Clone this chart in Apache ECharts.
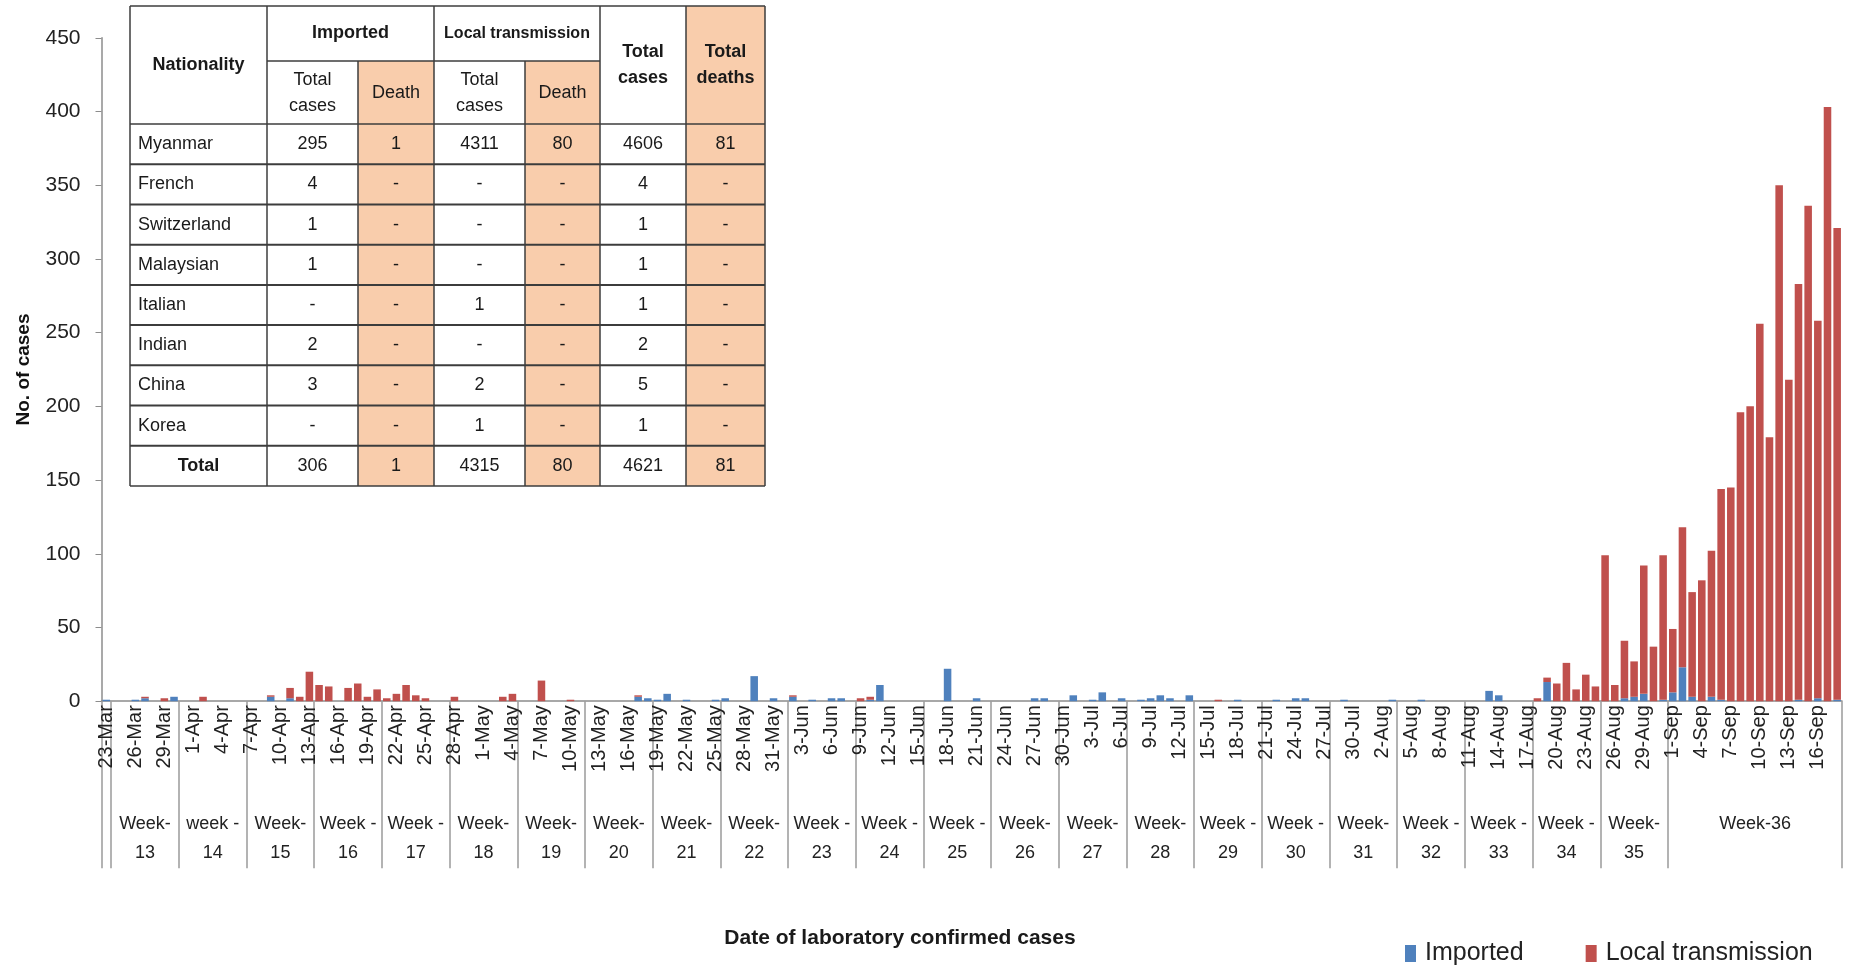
<!DOCTYPE html>
<html><head><meta charset="utf-8">
<script src="https://cdn.jsdelivr.net/npm/echarts/dist/echarts.min.js"></script>
<style>html,body{margin:0;padding:0;background:#fff}#c{width:1851px;height:969px}</style>
</head><body><div id="c"></div>
<script>
// ---------- DATA ----------
const dates = [
'23-Mar','24-Mar','25-Mar','26-Mar','27-Mar','28-Mar','29-Mar','30-Mar','31-Mar',
'1-Apr','2-Apr','3-Apr','4-Apr','5-Apr','6-Apr','7-Apr','8-Apr','9-Apr','10-Apr','11-Apr','12-Apr','13-Apr','14-Apr','15-Apr','16-Apr','17-Apr','18-Apr','19-Apr','20-Apr','21-Apr','22-Apr','23-Apr','24-Apr','25-Apr','26-Apr','27-Apr','28-Apr','29-Apr','30-Apr',
'1-May','2-May','3-May','4-May','5-May','6-May','7-May','8-May','9-May','10-May','11-May','12-May','13-May','14-May','15-May','16-May','17-May','18-May','19-May','20-May','21-May','22-May','23-May','24-May','25-May','26-May','27-May','28-May','29-May','30-May','31-May',
'1-Jun','2-Jun','3-Jun','4-Jun','5-Jun','6-Jun','7-Jun','8-Jun','9-Jun','10-Jun','11-Jun','12-Jun','13-Jun','14-Jun','15-Jun','16-Jun','17-Jun','18-Jun','19-Jun','20-Jun','21-Jun','22-Jun','23-Jun','24-Jun','25-Jun','26-Jun','27-Jun','28-Jun','29-Jun','30-Jun',
'1-Jul','2-Jul','3-Jul','4-Jul','5-Jul','6-Jul','7-Jul','8-Jul','9-Jul','10-Jul','11-Jul','12-Jul','13-Jul','14-Jul','15-Jul','16-Jul','17-Jul','18-Jul','19-Jul','20-Jul','21-Jul','22-Jul','23-Jul','24-Jul','25-Jul','26-Jul','27-Jul','28-Jul','29-Jul','30-Jul','31-Jul',
'1-Aug','2-Aug','3-Aug','4-Aug','5-Aug','6-Aug','7-Aug','8-Aug','9-Aug','10-Aug','11-Aug','12-Aug','13-Aug','14-Aug','15-Aug','16-Aug','17-Aug','18-Aug','19-Aug','20-Aug','21-Aug','22-Aug','23-Aug','24-Aug','25-Aug','26-Aug','27-Aug','28-Aug','29-Aug','30-Aug','31-Aug',
'1-Sep','2-Sep','3-Sep','4-Sep','5-Sep','6-Sep','7-Sep','8-Sep','9-Sep','10-Sep','11-Sep','12-Sep','13-Sep','14-Sep','15-Sep','16-Sep','17-Sep','18-Sep'
];
const imported = [
1,0,0,1,2,0,0,3,0,0,
0,0,0,0,0,0,0,3,0,2,
0,0,0,0,0,0,0,0,0,0,
0,0,0,0,0,0,0,0,0,0,
0,0,0,0,0,0,0,0,0,0,
0,0,0,0,0,3,2,1,5,0,
1,0,0,1,2,0,0,17,0,2,
0,3,0,1,0,2,2,0,0,1,
11,0,0,0,0,0,0,22,0,0,
2,0,0,0,0,0,2,2,0,0,
4,0,1,6,0,2,0,1,2,4,
2,0,4,0,0,0,0,1,0,0,
0,1,0,2,2,0,0,0,1,0,
0,0,0,1,0,0,1,0,0,0,
0,0,0,7,4,0,0,0,0,13,
0,0,0,0,0,0,0,2,3,5,
0,1,6,23,3,0,3,1,0,0,
0,0,0,0,0,1,0,2,0,1
];
const localTransmission = [
0,0,0,0,1,0,2,0,0,0,
3,0,0,0,0,0,0,1,0,7,
3,20,11,10,0,9,12,3,8,2,
5,11,4,2,0,0,3,0,0,0,
0,3,5,0,0,14,0,0,1,0,
0,0,0,0,0,1,0,0,0,0,
0,0,0,0,0,0,0,0,0,0,
0,1,0,0,0,0,0,0,2,2,
0,0,0,0,0,0,0,0,0,0,
0,0,0,0,0,0,0,0,0,0,
0,0,0,0,0,0,0,0,0,0,
0,0,0,0,0,1,0,0,0,0,
0,0,0,0,0,0,0,0,0,0,
0,0,0,0,0,0,0,0,0,0,
0,0,0,0,0,0,0,0,2,3,
12,26,8,18,10,99,11,39,24,87,
37,98,43,95,71,82,99,143,145,196,
200,256,179,350,218,282,336,256,403,320
];
// week groups: index of first day of each group
const weekStarts = [0,1,8,15,22,29,36,43,50,57,64,71,78,85,92,99,106,113,120,127,134,141,148,155,162];
const weekNames = ['','Week-\n13','week -\n14','Week-\n15','Week -\n16','Week -\n17','Week-\n18','Week-\n19','Week-\n20','Week-\n21','Week-\n22','Week -\n23','Week -\n24','Week -\n25','Week-\n26','Week-\n27','Week-\n28','Week -\n29','Week -\n30','Week-\n31','Week -\n32','Week -\n33','Week -\n34','Week-\n35','Week-36'];

// table
const tblNationality = ['Myanmar','French','Switzerland','Malaysian','Italian','Indian','China','Korea','Total'];
const tblImpCases  = ['295','4','1','1','-','2','3','-','306'];
const tblImpDeath  = ['1','-','-','-','-','-','-','-','1'];
const tblLocCases  = ['4311','-','-','-','1','-','2','1','4315'];
const tblLocDeath  = ['80','-','-','-','-','-','-','-','80'];
const tblTotCases  = ['4606','4','1','1','1','2','5','1','4621'];
const tblTotDeath  = ['81','-','-','-','-','-','-','-','81'];

// ---------- BUILD ----------
const FONT = "'Liberation Sans', Arial, sans-serif";
const NARROW = "'Liberation Sans Narrow', 'Liberation Sans', Arial, sans-serif";
const tickSet = new Set(weekStarts);
const labelMap = new Map();
weekStarts.forEach((s, k) => {
  const e = (k + 1 < weekStarts.length ? weekStarts[k + 1] : dates.length) - 1;
  if (!weekNames[k]) return;
  const c = (s + e) / 2;
  if (Number.isInteger(c)) labelMap.set(c, weekNames[k]);
  else labelMap.set(Math.floor(c), '{h|' + weekNames[k] + '}');
});

// table layout
const colX = [130, 267, 358, 434, 525, 600, 686, 765];
const hdrTop = 6, hdrMid = 61, hdrBot = 124, tblBot = 486;
const rowH = (tblBot - hdrBot) / tblNationality.length;
const PEACH = '#F9CDAC', LINE = '#3c3c3c';
const g = [];
g.push({type:'rect', shape:{x:colX[0], y:hdrTop, width:colX[7]-colX[0], height:tblBot-hdrTop}, style:{fill:'#fff'}, z:100});
g.push({type:'rect', shape:{x:colX[2], y:hdrMid, width:colX[3]-colX[2], height:tblBot-hdrMid}, style:{fill:PEACH}, z:101});
g.push({type:'rect', shape:{x:colX[4], y:hdrMid, width:colX[5]-colX[4], height:tblBot-hdrMid}, style:{fill:PEACH}, z:101});
g.push({type:'rect', shape:{x:colX[6], y:hdrTop, width:colX[7]-colX[6], height:tblBot-hdrTop}, style:{fill:PEACH}, z:101});
function hline(x1, x2, y, w) { g.push({type:'line', shape:{x1, y1:y, x2, y2:y}, style:{stroke:LINE, lineWidth:w||1.5}, z:102}); }
function vline(x, y1, y2, w) { g.push({type:'line', shape:{x1:x, y1, x2:x, y2}, style:{stroke:LINE, lineWidth:w||1.5}, z:102}); }
hline(colX[0], colX[7], hdrTop);
hline(colX[1], colX[5], hdrMid);
for (let r = 0; r <= tblNationality.length; r++) hline(colX[0], colX[7], hdrBot + r * rowH, r === 0 || r === tblNationality.length ? 1.5 : 2);
[0,1,3,5,6,7].forEach(i => vline(colX[i], hdrTop, tblBot));
[2,4].forEach(i => vline(colX[i], hdrMid, tblBot));
function txt(text, x, y, opt) {
  g.push({type:'text', x, y, z:103, style:Object.assign({text, fill:'#1a1a1a', font:'18px ' + NARROW, textAlign:'center', textVerticalAlign:'middle', lineHeight:26}, opt||{})});
}
const bold = '600 18px ' + NARROW;
txt('Nationality', (colX[0]+colX[1])/2, (hdrTop+hdrBot)/2, {font:bold});
txt('Imported', (colX[1]+colX[3])/2, (hdrTop+hdrMid)/2, {font:bold});
txt('Local transmission', (colX[3]+colX[5])/2, (hdrTop+hdrMid)/2, {font:'600 16px ' + NARROW});
txt('Total\ncases', (colX[5]+colX[6])/2, (hdrTop+hdrBot)/2, {font:bold});
txt('Total\ndeaths', (colX[6]+colX[7])/2, (hdrTop+hdrBot)/2, {font:bold});
txt('Total\ncases', (colX[1]+colX[2])/2, (hdrMid+hdrBot)/2 + 1);
txt('Death', (colX[2]+colX[3])/2, (hdrMid+hdrBot)/2 + 1);
txt('Total\ncases', (colX[3]+colX[4])/2, (hdrMid+hdrBot)/2 + 1);
txt('Death', (colX[4]+colX[5])/2, (hdrMid+hdrBot)/2 + 1);
const cols = [tblImpCases, tblImpDeath, tblLocCases, tblLocDeath, tblTotCases, tblTotDeath];
tblNationality.forEach((n, r) => {
  const cy = hdrBot + (r + 0.5) * rowH;
  const last = r === tblNationality.length - 1;
  if (last) txt(n, (colX[0]+colX[1])/2, cy, {font:bold});
  else txt(n, colX[0] + 8, cy, {textAlign:'left'});
  cols.forEach((arr, c) => txt(arr[r], (colX[c+1]+colX[c+2])/2, cy));
});
// x axis title
g.push({type:'text', x:900, y:938, z:50, style:{text:'Date of laboratory confirmed cases', font:'bold 21px ' + NARROW, fill:'#1a1a1a', textAlign:'center', textVerticalAlign:'middle'}});

const chart = echarts.init(document.getElementById('c'), null, {renderer:'canvas'});
chart.setOption({
  animation:false,
  backgroundColor:'#fff',
  grid:{left:101.5, right:9, top:37.8, bottom:267.8, containLabel:false},
  legend:{data:['Imported','Local transmission'], left:1400, top:936, icon:'rect', itemWidth:11, itemHeight:17, itemGap:62,
    textStyle:{fontSize:25, color:'#222', fontFamily:NARROW, padding:[0,0,0,4]}},
  xAxis:[
    {type:'category', data:dates, position:'bottom',
     axisLine:{lineStyle:{color:'#8c8c8c', width:1.5}},
     axisTick:{show:false},
     axisLabel:{interval:2, rotate:90, fontSize:20, color:'#222', margin:4, fontFamily:FONT}},
    {type:'category', data:dates, position:'bottom',
     axisLine:{show:false},
     axisTick:{show:true, length:167, interval:(i)=>tickSet.has(i), lineStyle:{color:'#9a9a9a', width:1.5}},
     axisLabel:{interval:(i)=>labelMap.has(i), formatter:(v,i)=>labelMap.get(i) || '', margin:108,
       fontSize:18, lineHeight:29, color:'#222', fontFamily:NARROW,
       rich:{h:{fontSize:18, color:'#222', fontFamily:NARROW, padding:[0,0,0,10]}}},
     splitLine:{show:false}}
  ],
  yAxis:{type:'value', min:0, max:450, interval:50,
    axisLine:{show:true, lineStyle:{color:'#8c8c8c', width:1.5}},
    axisTick:{show:true, length:6, lineStyle:{color:'#8c8c8c'}},
    splitLine:{show:false},
    axisLabel:{fontSize:21, color:'#222', margin:21, fontFamily:NARROW},
    name:'No. of cases', nameLocation:'middle', nameGap:68,
    nameTextStyle:{fontSize:19, fontWeight:'bold', color:'#111', fontFamily:FONT}},
  series:[
    {name:'Imported', type:'bar', stack:'c', data:imported, barCategoryGap:'22%', itemStyle:{color:'#4F81BD'}},
    {name:'Local transmission', type:'bar', stack:'c', data:localTransmission, barCategoryGap:'22%', itemStyle:{color:'#C0504D'}}
  ],
  graphic:{elements:g}
});
</script></body></html>
